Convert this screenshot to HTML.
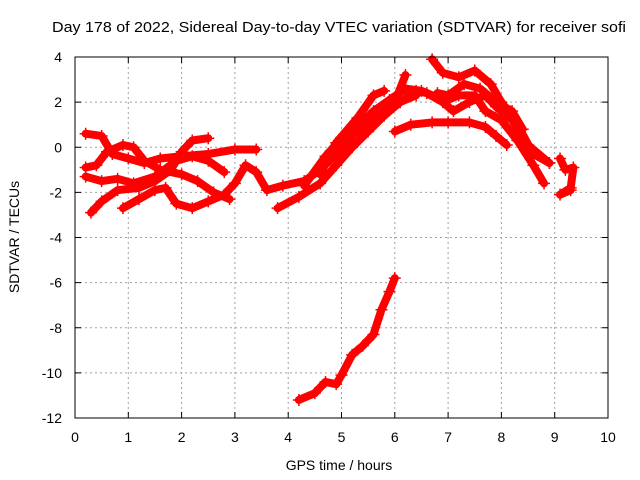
<!DOCTYPE html>
<html><head><meta charset="utf-8"><style>
html,body{margin:0;padding:0;background:#fff;}
svg{display:block;font-family:"Liberation Sans",sans-serif;}
</style></head><body>
<svg id="chart" width="640" height="480" viewBox="0 0 640 480">
<text x="339" y="32" font-size="15" text-anchor="middle" fill="#000" textLength="574" lengthAdjust="spacingAndGlyphs">Day 178 of 2022, Sidereal Day-to-day VTEC variation (SDTVAR) for receiver sofi</text>
<g id="grid"></g>
<g id="series"></g>
<rect x="75" y="57" width="533" height="361" fill="none" stroke="#000" stroke-width="1"/>
<g id="axes"></g>
<text x="339" y="470" font-size="14" text-anchor="middle">GPS time / hours</text>
<text transform="translate(19,237) rotate(-90)" font-size="14" text-anchor="middle">SDTVAR / TECUs</text>
</svg>
<script>
const xTicks=[0,1,2,3,4,5,6,7,8,9,10];
const yTicks=[4,2,0,-2,-4,-6,-8,-10,-12];
const t1=[[0.2,0.6],[0.5,0.5],[0.7,-0.3],[1.0,-0.5],[1.3,-0.7],[1.6,-0.5],[2.0,-0.4],[2.5,-0.3],[3.0,-0.1],[3.4,-0.1]];
const t2=[[0.2,-0.9],[0.4,-0.8],[0.6,-0.2],[0.9,0.1],[1.1,0.0],[1.3,-0.6],[1.6,-1.0],[2.0,-1.2],[2.3,-1.5],[2.6,-2.0],[2.9,-2.3]];
const t3=[[0.2,-1.3],[0.5,-1.5],[0.8,-1.4],[1.1,-1.6],[1.5,-1.3],[1.9,-0.6],[2.2,-0.4],[2.5,-0.6],[2.8,-1.1]];
const t4=[[0.3,-2.9],[0.5,-2.4],[0.8,-1.9],[1.2,-1.8],[1.5,-1.5],[1.8,-1.0],[2.0,-0.2],[2.2,0.3],[2.5,0.4]];
const t5=[[0.9,-2.7],[1.2,-2.3],[1.5,-1.9],[1.7,-1.8],[1.9,-2.5],[2.2,-2.7],[2.5,-2.4],[2.8,-2.1],[3.0,-1.6],[3.2,-0.8],[3.4,-1.1],[3.6,-1.9],[3.9,-1.7],[4.3,-1.5],[4.6,-1.0],[4.9,-0.3],[5.2,0.5],[5.5,1.1],[5.8,1.6],[6.1,2.0],[6.4,2.3]];
const t7=[[3.8,-2.7],[4.2,-2.2],[4.6,-1.6],[4.9,-0.8],[5.2,0.0],[5.5,0.7],[5.8,1.4],[6.1,2.0],[6.4,2.5],[6.6,2.4],[6.9,2.0],[7.2,2.3],[7.5,2.3],[7.7,1.6],[8.0,1.2],[8.3,0.3],[8.6,-0.8],[8.8,-1.6]];
const t8=[[4.3,-1.7],[4.7,-0.4],[5.0,0.4],[5.3,0.9],[5.6,1.6],[5.9,2.1],[6.2,2.6],[6.5,2.5],[6.8,2.2],[7.1,1.6],[7.4,2.0],[7.7,2.3],[7.9,1.8],[8.2,1.2],[8.5,0.1],[8.9,-0.7]];
const t9=[[4.6,-1.2],[4.9,0.2],[5.3,1.3],[5.6,2.3],[5.8,2.5]];
const t10=[[6.0,0.7],[6.3,1.0],[6.7,1.1],[7.0,1.1],[7.4,1.1],[7.7,0.9],[7.9,0.5],[8.1,0.1]];
const t11=[[6.7,3.9],[6.9,3.3],[7.2,3.1],[7.5,3.4],[7.8,2.8],[8.0,2.0],[8.3,1.0],[8.6,-0.3],[8.9,-0.7]];
const t12=[[6.0,2.0],[6.2,3.2]];
const t13=[[6.8,2.4],[7.0,2.3],[7.3,2.8],[7.6,2.6],[7.9,2.0],[8.2,1.6],[8.4,0.8]];
const t14=[[9.1,-0.5],[9.2,-1.0],[9.35,-0.9],[9.3,-1.8],[9.1,-2.1],[9.3,-1.9]];
const t15=[[4.2,-11.2],[4.5,-10.9],[4.7,-10.4],[4.9,-10.5],[5.0,-10.1],[5.2,-9.2],[5.4,-8.8],[5.6,-8.3],[5.75,-7.2],[5.9,-6.4],[6.0,-5.8]];
const allSeries=[t1,t2,t3,t4,t5,t7,t8,t9,t10,t11,t12,t13,t14,t15];
const X=h=>75+h*53.3;
const Y=v=>57+(4-v)*(361/16);
const NS='http://www.w3.org/2000/svg';
const grid=document.getElementById('grid'),axes=document.getElementById('axes'),ser=document.getElementById('series');
function mk(tag,attrs,parent){const e=document.createElementNS(NS,tag);for(const k in attrs)e.setAttribute(k,attrs[k]);parent.appendChild(e);return e;}
xTicks.forEach(t=>{
  const x=X(t);
  if(t>0&&t<10){const g=mk('line',{x1:x,x2:x,y1:57,y2:418,stroke:'#a0a0a0','stroke-dasharray':'2,3'},grid);
  
  }
  const tk=mk('line',{x1:x,x2:x,y1:418,y2:412,stroke:'#000'},axes);
  
  
  const tk2=mk('line',{x1:x,x2:x,y1:57,y2:63,stroke:'#000'},axes);
  
  
  const l=mk('text',{x:x,y:442,'font-size':14,'text-anchor':'middle'},axes);l.textContent=t;
  
  
});
yTicks.forEach(t=>{
  const y=Y(t);
  if(t<4&&t>-12){const g=mk('line',{x1:75,x2:608,y1:y,y2:y,stroke:'#a0a0a0','stroke-dasharray':'2,3'},grid);
  
  }
  const tk=mk('line',{x1:75,x2:81,y1:y,y2:y,stroke:'#000'},axes);
  
  
  const tk2=mk('line',{x1:602,x2:608,y1:y,y2:y,stroke:'#000'},axes);
  
  
  const l=mk('text',{x:62,y:y+5,'font-size':14,'text-anchor':'end'},axes);l.textContent=t;
  
  
});
allSeries.forEach((s,i)=>{
  const pl=mk('polyline',{points:s.map(p=>X(p[0])+','+Y(p[1])).join(' '),fill:'none',stroke:'#ff0000','stroke-width':8,'stroke-linejoin':'round','stroke-linecap':'round'},ser);
  
  
  s.forEach(p=>{
    const x=X(p[0]),y=Y(p[1]);
    const m=mk('path',{d:`M${x-6},${y}H${x+6}M${x},${y-6}V${y+6}`,stroke:'#ff0000','stroke-width':1.5},ser);
    
    
  });
});
</script>
</body></html>
